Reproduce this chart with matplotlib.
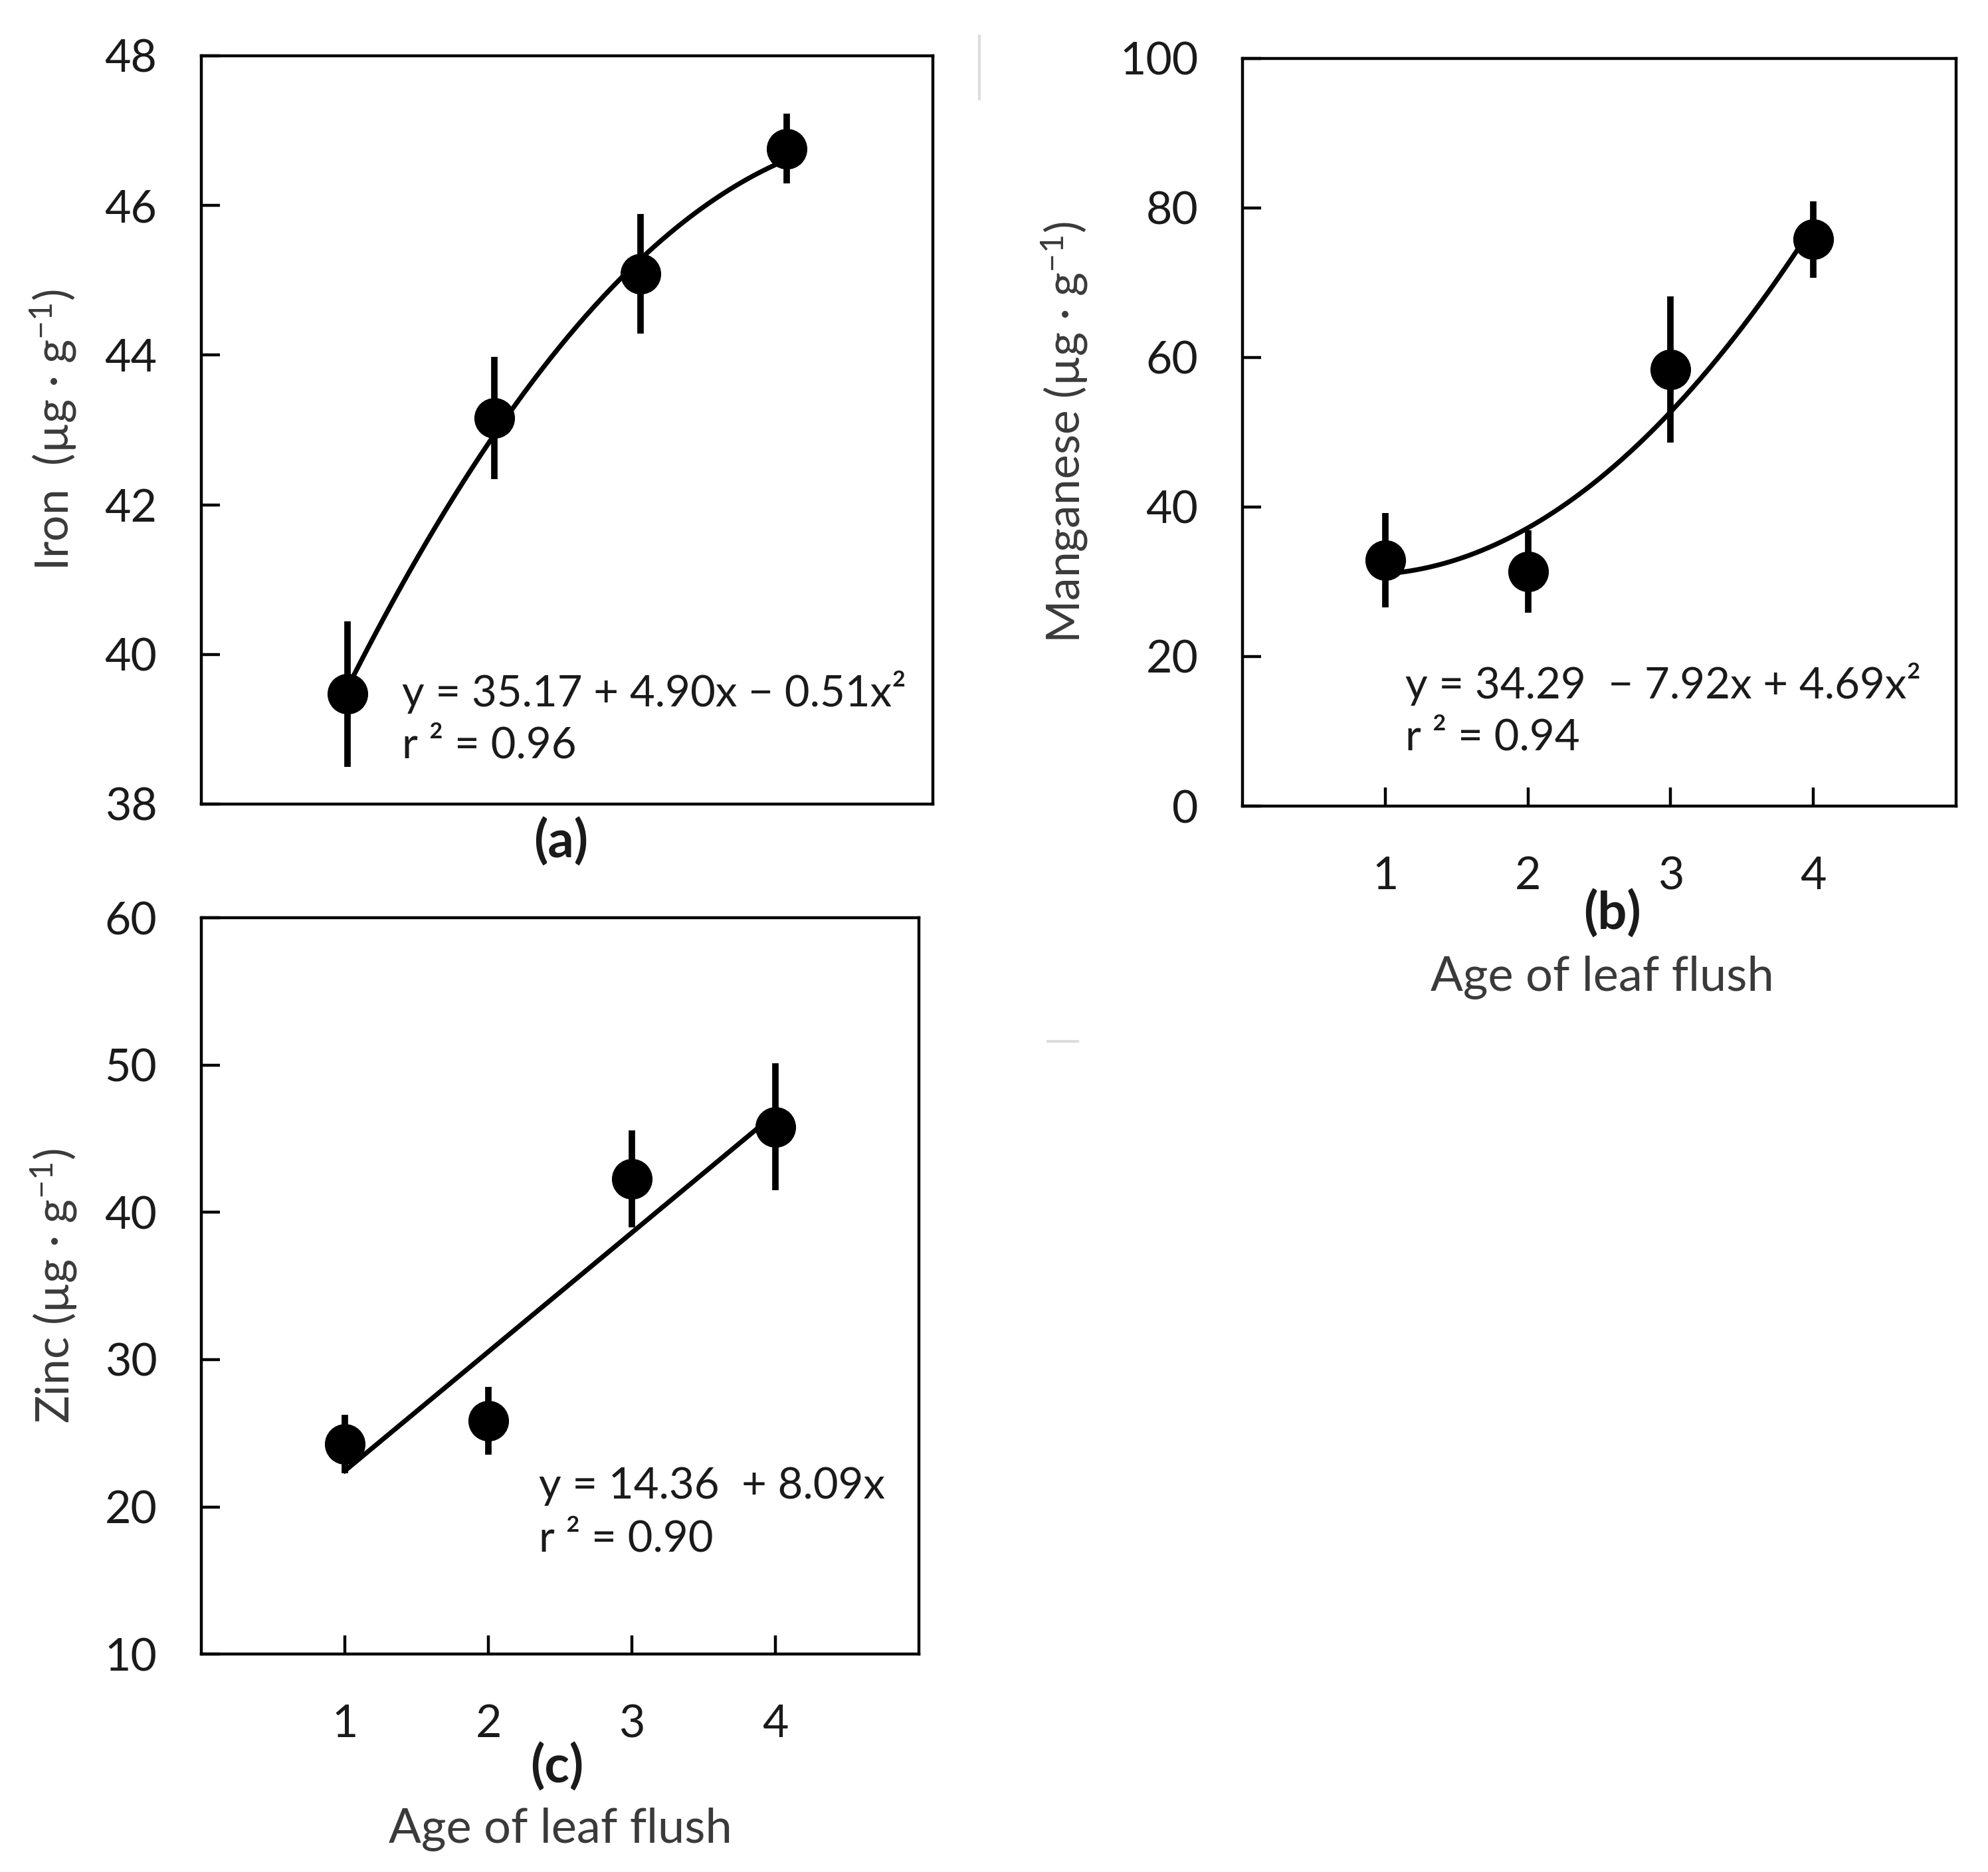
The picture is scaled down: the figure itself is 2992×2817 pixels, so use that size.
import numpy as np
import matplotlib
matplotlib.use("Agg")
import matplotlib.pyplot as plt
from matplotlib.lines import Line2D

plt.rcParams['font.family'] = ['Lato', 'DejaVu Sans']
plt.rcParams['mathtext.fontset'] = 'custom'
plt.rcParams['mathtext.rm'] = 'Lato'
plt.rcParams['mathtext.it'] = 'Lato'

# ---- data ----
age = [1, 2, 3, 4]
x_ticks = [1, 2, 3, 4]

iron_mean = [39.47, 43.16, 45.09, 46.76]
iron_err = [0.97, 0.82, 0.80, 0.47]
iron_coef = [35.17, 4.90, -0.51]          # c0, c1, c2
iron_yticks = [38, 40, 42, 44, 46, 48]

mn_mean = [32.9, 31.35, 58.4, 75.8]
mn_err = [6.3, 5.5, 9.8, 5.1]
mn_coef = [34.29, -7.92, 4.69]
mn_yticks = [0, 20, 40, 60, 80, 100]

zn_mean = [24.27, 25.83, 42.27, 45.81]
zn_err = [2.0, 2.3, 3.3, 4.3]
zn_coef = [14.36, 8.09, 0.0]
zn_yticks = [10, 20, 30, 40, 50, 60]

W, H, DPI = 2992, 2817, 200
fig = plt.figure(figsize=(W / DPI, H / DPI), dpi=DPI)

TICK_COLOR = '#1a1a1a'
LABEL_COLOR = '#3a3a3a'


def panel(rect, mean, err, coef, yticks, ylabel, eq1, eq2, eq_xy,
          show_xticks, ylabel_x):
    ax = fig.add_axes(rect)
    ax.set_xlim(0, 5)
    ax.set_ylim(yticks[0], yticks[-1])
    ax.set_yticks(yticks)
    for s in ax.spines.values():
        s.set_linewidth(1.6)
        s.set_color('black')
    ax.tick_params(axis='y', direction='in', length=10, width=1.6,
                   labelsize=24.5, pad=24, labelcolor=TICK_COLOR)
    if show_xticks:
        ax.set_xticks(x_ticks)
        ax.tick_params(axis='x', direction='in', length=10, width=1.6,
                       labelsize=24.5, pad=27, labelcolor=TICK_COLOR)
    else:
        ax.set_xticks([])
    # trend line
    xx = np.linspace(age[0], age[-1], 200)
    yy = coef[0] + coef[1] * xx + coef[2] * xx ** 2
    ax.plot(xx, yy, color='black', lw=2.6, zorder=2)
    ax.errorbar(age, mean, yerr=err, fmt='o', color='black', ms=21,
                elinewidth=3.5, capsize=0, zorder=3)
    ax.set_ylabel(ylabel, fontsize=25, color=LABEL_COLOR)
    ax.yaxis.set_label_coords(ylabel_x, 0.5)
    span = yticks[-1] - yticks[0]
    ax.text(eq_xy[0], eq_xy[1], eq1, fontsize=23.5, color=TICK_COLOR,
            transform=ax.transData, va='center', ha='left')
    ax.text(eq_xy[0], eq_xy[1] - span * 0.072, eq2,
            fontsize=23.5, color=TICK_COLOR, transform=ax.transData,
            va='center', ha='left')
    return ax


unit = ' (µg · g$^{-1}$)'

panel([0.1013, 0.5705, 0.368, 0.3997], iron_mean, iron_err, iron_coef,
      iron_yticks, 'Iron ' + unit,
      'y = 35.17 + 4.90x − 0.51x²', 'r ² = 0.96', (1.37, 39.5),
      False, -0.168)

panel([0.625, 0.5694, 0.359, 0.3994], mn_mean, mn_err, mn_coef,
      mn_yticks, 'Manganese' + unit,
      'y = 34.29  − 7.92x + 4.69x²', 'r ² = 0.94', (1.14, 16.35),
      True, -0.214)

panel([0.1013, 0.1164, 0.361, 0.3933], zn_mean, zn_err, zn_coef,
      zn_yticks, 'Zinc' + unit,
      'y = 14.36  + 8.09x', 'r ² = 0.90', (2.35, 21.4),
      True, -0.170)

# panel letters and x labels
fig.text(0.282, 0.5499, '(a)', fontsize=28, fontweight='bold',
         ha='center', va='center', color=TICK_COLOR)
fig.text(0.811, 0.5116, '(b)', fontsize=28, fontweight='bold',
         ha='center', va='center', color=TICK_COLOR)
fig.text(0.806, 0.4777, 'Age of leaf flush', fontsize=26,
         ha='center', va='center', color=LABEL_COLOR)
fig.text(0.280, 0.0559, '(c)', fontsize=28, fontweight='bold',
         ha='center', va='center', color=TICK_COLOR)
fig.text(0.282, 0.0226, 'Age of leaf flush', fontsize=26,
         ha='center', va='center', color=LABEL_COLOR)

# faint stray separator marks seen in the source image
fig.add_artist(Line2D([0.4926, 0.4926], [0.981, 0.947],
                      color='#dddddd', lw=1.5, transform=fig.transFigure))
fig.add_artist(Line2D([0.527, 0.542], [0.4436, 0.4436],
                      color='#dddddd', lw=1.5, transform=fig.transFigure))

fig.savefig('out.png', dpi=DPI, facecolor='white')
